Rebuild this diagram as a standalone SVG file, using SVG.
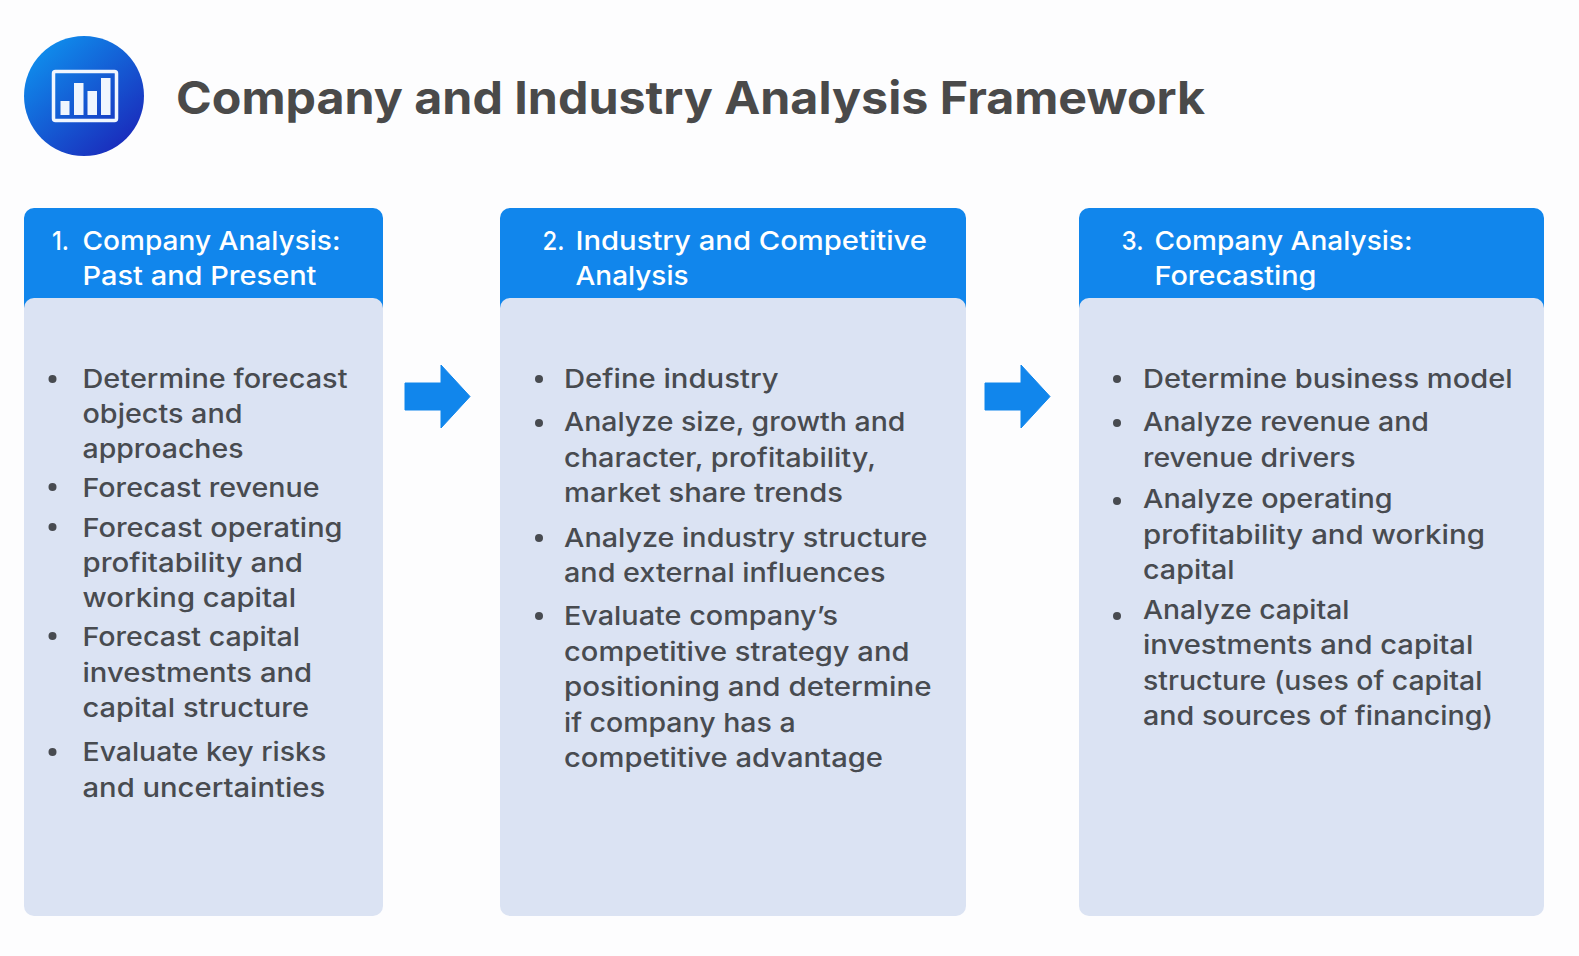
<svg xmlns="http://www.w3.org/2000/svg" width="1579" height="956" viewBox="0 0 1579 956">
<defs>
<linearGradient id="g" x1="0.15" y1="0.1" x2="0.85" y2="0.9"><stop offset="0" stop-color="#0f8cec"/><stop offset="1" stop-color="#1a2cbc"/></linearGradient>
<path id="arrow" d="M0 18H36V0L65 31.500L36 63V45H0Z" stroke="#1186ec" stroke-width="1" stroke-linejoin="round"/>
</defs>
<style>
text{font-family:"Inter","Noto Sans","Liberation Sans",sans-serif}
.t{font-size:26px;font-weight:550;fill:#484b50}
.h{font-size:26px;font-weight:550;fill:#fff}
.hd{fill:#1186ec}
.b{fill:#dbe3f3}
.dot{fill:#484b50}
.ar{fill:#1186ec}
</style>
<rect width="1579" height="956" fill="#fdfdfe"/>
<g id="logo">
<circle cx="84" cy="96" r="60" fill="url(#g)"/>
<rect x="53.500" y="71.500" width="63" height="49" rx="2" fill="none" stroke="#f0f6fe" stroke-width="3.500"/>
<g fill="#f0f6fe"><rect x="60.500" y="101" width="9" height="14"/><rect x="74" y="83" width="9.500" height="32"/><rect x="87.500" y="91" width="9.500" height="24"/><rect x="101" y="78" width="9.500" height="37"/></g>
</g>
<text id="title" x="176" y="114" font-size="45" font-weight="700" fill="#4a4a4a" textLength="1029" lengthAdjust="spacingAndGlyphs">Company and Industry Analysis Framework</text>

<g id="connectors">
<use href="#arrow" class="ar" x="405" y="365"/>
<use href="#arrow" class="ar" x="985" y="365"/>
</g>

<g id="node1">
<rect class="hd" x="24" y="208" width="359" height="110" rx="10"/>
<rect class="b" x="24" y="298" width="359" height="618" rx="10"/>
<text class="h" x="52" y="250" textLength="17" lengthAdjust="spacingAndGlyphs">1.</text>
<text class="h" x="82.500" y="250" textLength="258" lengthAdjust="spacingAndGlyphs">Company Analysis:</text>
<text class="h" x="82.500" y="285" textLength="234" lengthAdjust="spacingAndGlyphs">Past and Present</text>
<circle class="dot" cx="52.500" cy="379" r="4"/><circle class="dot" cx="52.500" cy="487" r="4"/><circle class="dot" cx="52.500" cy="527" r="4"/><circle class="dot" cx="52.500" cy="636" r="4"/><circle class="dot" cx="52.500" cy="752" r="4"/>
<text class="t" x="82.500" y="388" textLength="265" lengthAdjust="spacingAndGlyphs">Determine forecast</text>
<text class="t" x="82.500" y="423" textLength="160" lengthAdjust="spacingAndGlyphs">objects and</text>
<text class="t" x="82.500" y="458" textLength="161" lengthAdjust="spacingAndGlyphs">approaches</text>
<text class="t" x="82.500" y="496.500" textLength="237" lengthAdjust="spacingAndGlyphs">Forecast revenue</text>
<text class="t" x="82.500" y="537" textLength="260" lengthAdjust="spacingAndGlyphs">Forecast operating</text>
<text class="t" x="82.500" y="572" textLength="220.500" lengthAdjust="spacingAndGlyphs">profitability and</text>
<text class="t" x="82.500" y="607" textLength="213.500" lengthAdjust="spacingAndGlyphs">working capital</text>
<text class="t" x="82.500" y="645.500" textLength="217.500" lengthAdjust="spacingAndGlyphs">Forecast capital</text>
<text class="t" x="82.500" y="682" textLength="229.600" lengthAdjust="spacingAndGlyphs">investments and</text>
<text class="t" x="82.500" y="717" textLength="226.600" lengthAdjust="spacingAndGlyphs">capital structure</text>
<text class="t" x="82.500" y="761" textLength="243.700" lengthAdjust="spacingAndGlyphs">Evaluate key risks</text>
<text class="t" x="82.500" y="796.500" textLength="242.700" lengthAdjust="spacingAndGlyphs">and uncertainties</text>
</g>

<g id="node2">
<rect class="hd" x="500" y="208" width="466" height="110" rx="10"/>
<rect class="b" x="500" y="298" width="466" height="618" rx="10"/>
<text class="h" x="542.500" y="250" textLength="22" lengthAdjust="spacingAndGlyphs">2.</text>
<text class="h" x="575.500" y="250" textLength="351.500" lengthAdjust="spacingAndGlyphs">Industry and Competitive</text>
<text class="h" x="575.500" y="285" textLength="113" lengthAdjust="spacingAndGlyphs">Analysis</text>
<circle class="dot" cx="539" cy="379" r="4"/><circle class="dot" cx="539" cy="423" r="4"/><circle class="dot" cx="539" cy="538" r="4"/><circle class="dot" cx="539" cy="616" r="4"/>
<text class="t" x="564" y="388" textLength="214.500" lengthAdjust="spacingAndGlyphs">Define industry</text>
<text class="t" x="564" y="431" textLength="341.400" lengthAdjust="spacingAndGlyphs">Analyze size, growth and</text>
<text class="t" x="564" y="467" textLength="312" lengthAdjust="spacingAndGlyphs">character, profitability,</text>
<text class="t" x="564" y="502" textLength="279" lengthAdjust="spacingAndGlyphs">market share trends</text>
<text class="t" x="564" y="547" textLength="363.500" lengthAdjust="spacingAndGlyphs">Analyze industry structure</text>
<text class="t" x="564" y="582" textLength="321.500" lengthAdjust="spacingAndGlyphs">and external influences</text>
<text class="t" x="564" y="625" textLength="274" lengthAdjust="spacingAndGlyphs">Evaluate company’s</text>
<text class="t" x="564" y="660.500" textLength="345.400" lengthAdjust="spacingAndGlyphs">competitive strategy and</text>
<text class="t" x="564" y="696" textLength="367.600" lengthAdjust="spacingAndGlyphs">positioning and determine</text>
<text class="t" x="564" y="732" textLength="231.600" lengthAdjust="spacingAndGlyphs">if company has a</text>
<text class="t" x="564" y="767" textLength="319" lengthAdjust="spacingAndGlyphs">competitive advantage</text>
</g>

<g id="node3">
<rect class="hd" x="1079" y="208" width="465" height="110" rx="10"/>
<rect class="b" x="1079" y="298" width="465" height="618" rx="10"/>
<text class="h" x="1121.500" y="250" textLength="22" lengthAdjust="spacingAndGlyphs">3.</text>
<text class="h" x="1154.500" y="250" textLength="258" lengthAdjust="spacingAndGlyphs">Company Analysis:</text>
<text class="h" x="1154.500" y="285" textLength="162" lengthAdjust="spacingAndGlyphs">Forecasting</text>
<circle class="dot" cx="1117" cy="379" r="4"/><circle class="dot" cx="1117" cy="423" r="4"/><circle class="dot" cx="1117" cy="501" r="4"/><circle class="dot" cx="1117" cy="616" r="4"/>
<text class="t" x="1143" y="388" textLength="369.600" lengthAdjust="spacingAndGlyphs">Determine business model</text>
<text class="t" x="1143" y="431" textLength="286" lengthAdjust="spacingAndGlyphs">Analyze revenue and</text>
<text class="t" x="1143" y="467" textLength="212.500" lengthAdjust="spacingAndGlyphs">revenue drivers</text>
<text class="t" x="1143" y="508" textLength="249.700" lengthAdjust="spacingAndGlyphs">Analyze operating</text>
<text class="t" x="1143" y="544" textLength="341.900" lengthAdjust="spacingAndGlyphs">profitability and working</text>
<text class="t" x="1143" y="579" textLength="91.600" lengthAdjust="spacingAndGlyphs">capital</text>
<text class="t" x="1143" y="619" textLength="206.400" lengthAdjust="spacingAndGlyphs">Analyze capital</text>
<text class="t" x="1143" y="654" textLength="330.300" lengthAdjust="spacingAndGlyphs">investments and capital</text>
<text class="t" x="1143" y="690" textLength="339.400" lengthAdjust="spacingAndGlyphs">structure (uses of capital</text>
<text class="t" x="1143" y="725" textLength="350" lengthAdjust="spacingAndGlyphs">and sources of financing)</text>
</g>
</svg>
